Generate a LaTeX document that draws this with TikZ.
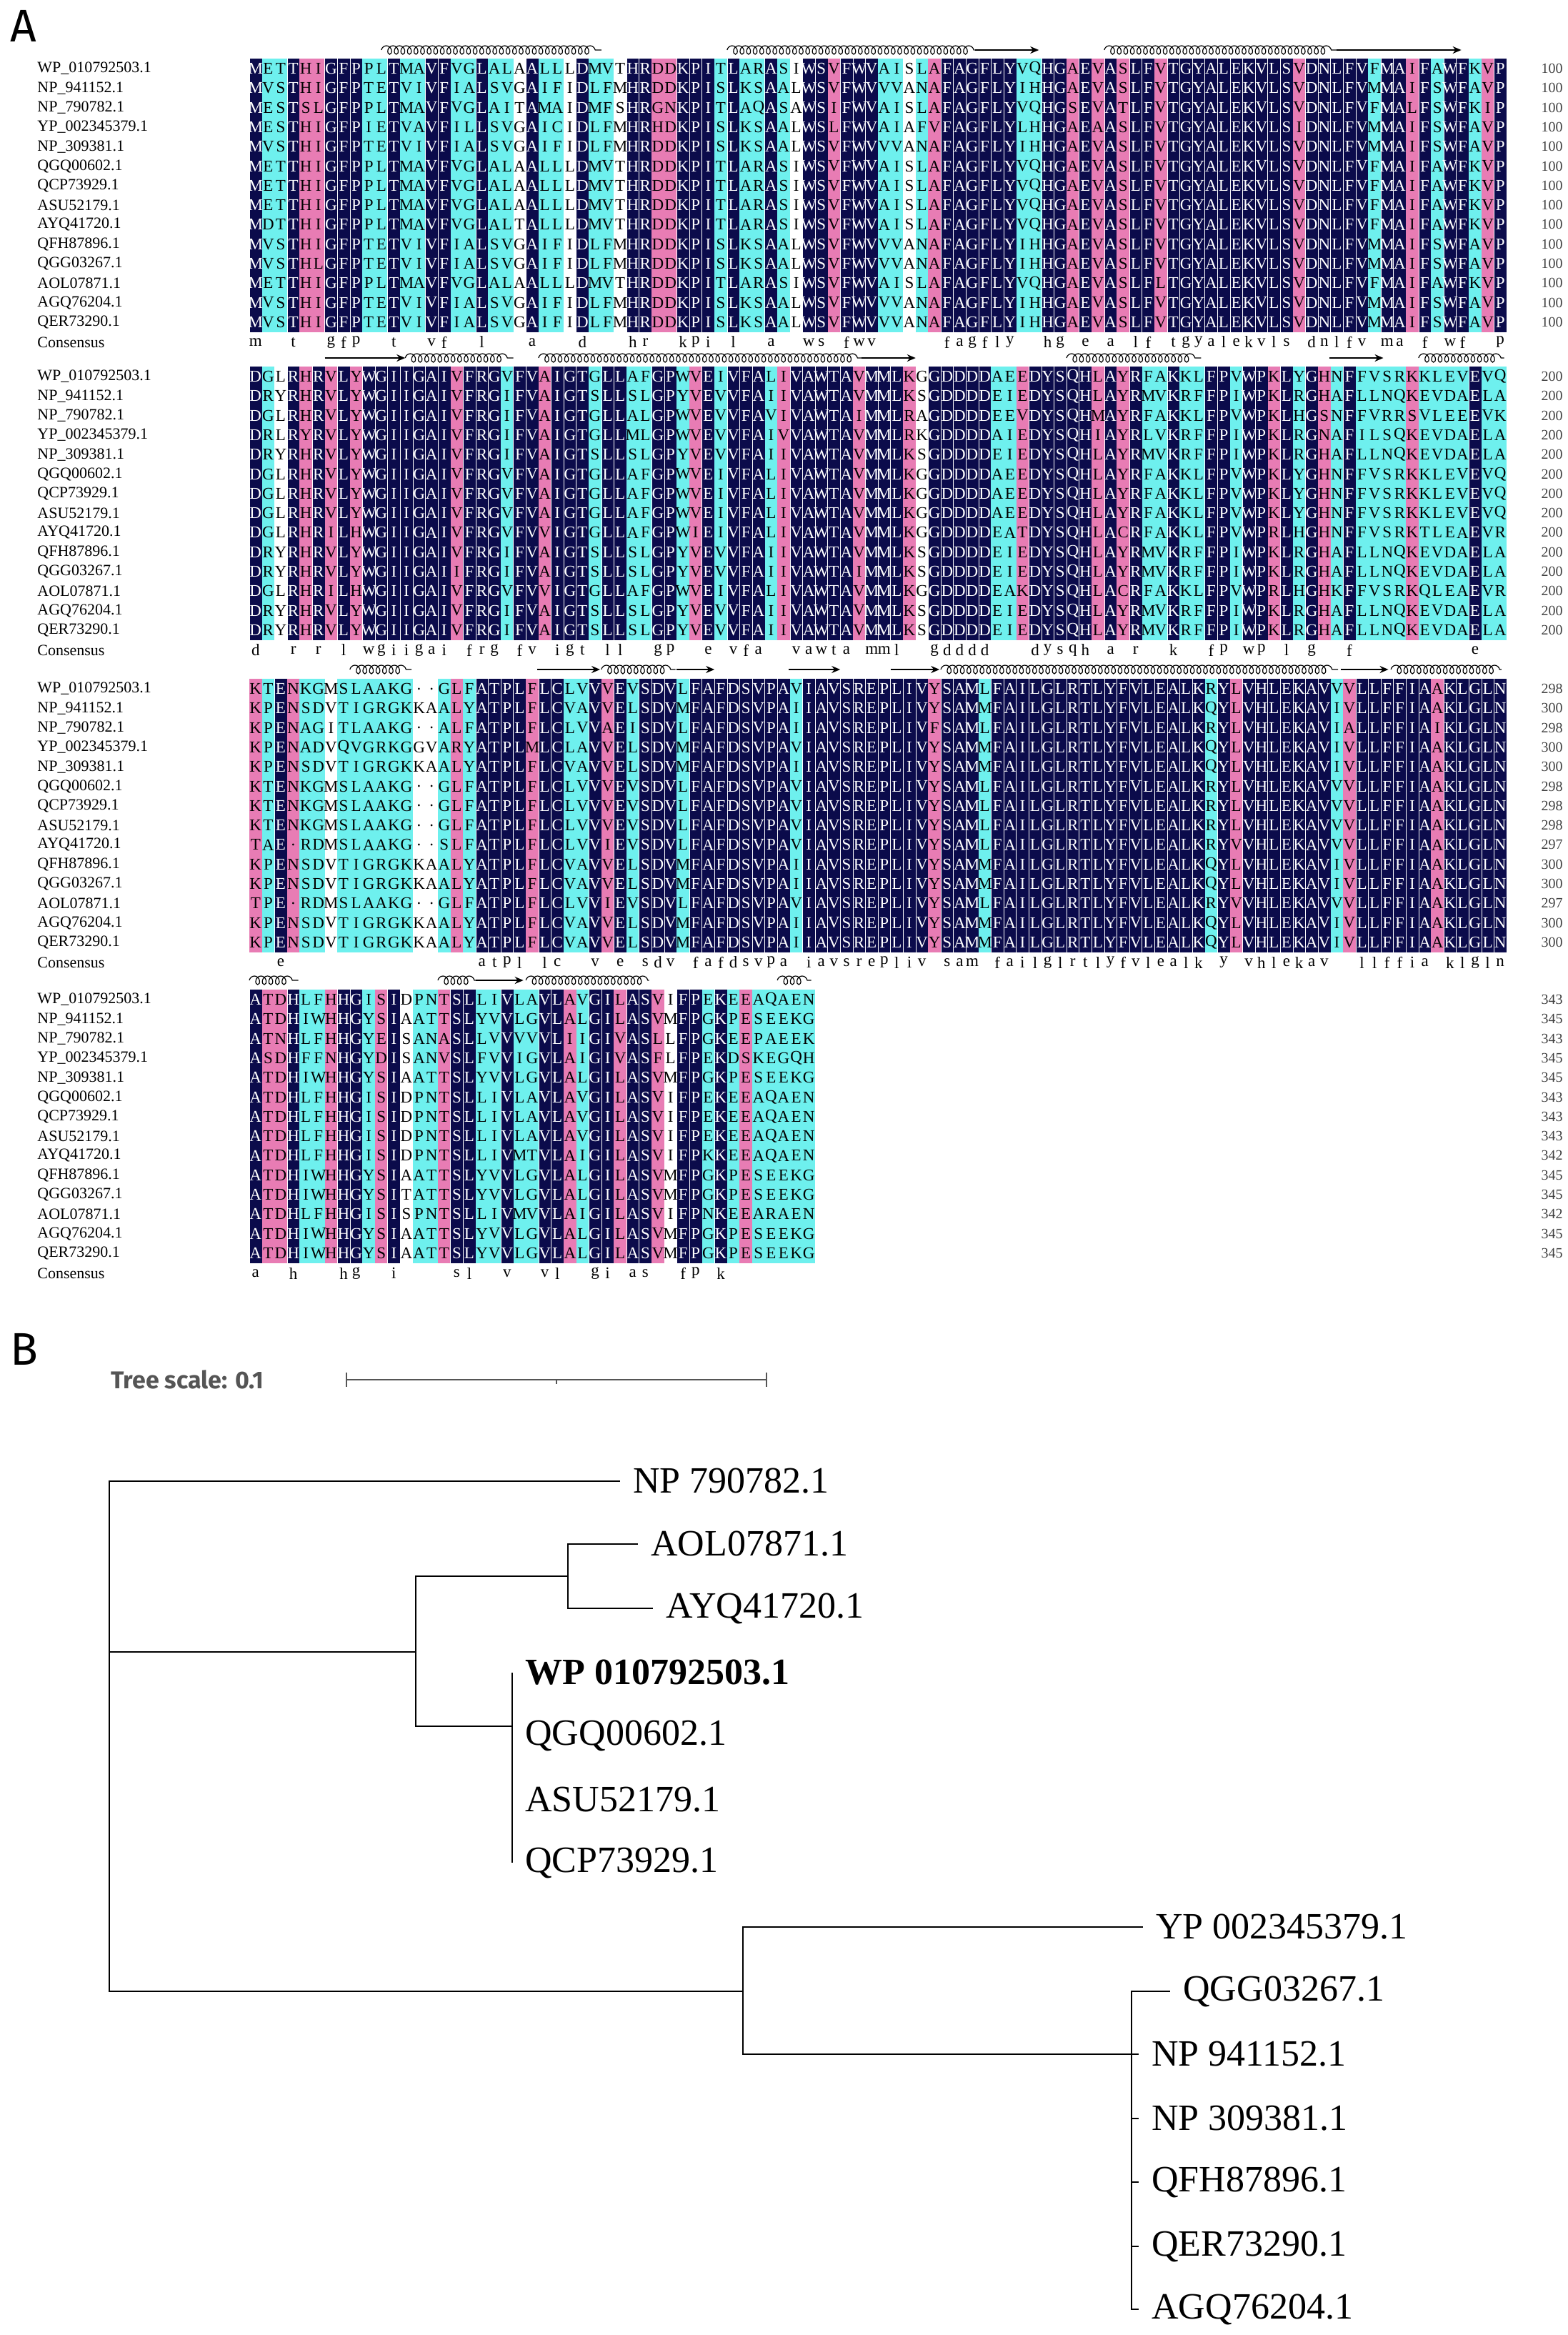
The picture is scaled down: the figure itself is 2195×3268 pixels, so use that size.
\documentclass[tikz,border=0pt]{standalone}
\usepackage{fontspec}
\setmainfont{Liberation Serif}
\newfontfamily\sansf{Fira Sans}
\usetikzlibrary{arrows.meta,decorations.pathmorphing}

\definecolor{navyres}{HTML}{0B0B4B}
\definecolor{cyanres}{HTML}{6EF0EE}
\definecolor{pinkres}{HTML}{E87CB4}
\definecolor{scalegray}{HTML}{555555}

\ExplSyntaxOn
\cs_generate_variant:Nn \str_item:nn {on}
\cs_generate_variant:Nn \str_count:n {o}
\cs_new:Npn \stritem #1#2 {\str_item:on {#1}{#2}}
\cs_new:Npn \strlen #1 {\str_count:o {#1}}
\ExplSyntaxOff

% column classes: N conserved, C cyan, P pink, W none
\def\clsa{NCCNPPNNNC%
CNCCNNCCNC%
CWNCCWNCCW%
NNPPNNNCNC%
CNCWNNPNNN%
CCWCPNNNNN%
NCCNNPNPNP%
NNPNNNNNNN%
NNNPNNNNNC%
NNPNCNNCPN}
\def\clsb{NCWNPNPNPN%
NNNNNNPNNN%
CNNPNNNCNN%
CCNNCPNCNN%
NCPNNNNNPN%
NNPWNNNNNC%
CPNNNNNPNP%
NCCNCCNNCN%
NPNCNPCNCC%
CCPCCCCNCC}
\def\clsc{PCNPCCWCCC%
CCCWWCPCNN%
NNPNNCCNPN%
CNNNCNNNNN%
NNNCNNNNNN%
NNNNPNNNCN%
NNNNNNNNNN%
NNNNNNCNPN%
NNNNNNCPNN%
NNNNPNNNNN}
\def\clsd{NPPNCCPNNC%
PNWCCPNNCC%
NCCNNPCNNP%
NNPWNNCNCP%
CCCCC}

% sequences, block a
\def\sAa{METTHIGFPPLTMAVFVGLALAALLLDMVTHRDDKPITLARASIWSVFWVAISLAFAGFLYVQHGAEVASLFVTGYALEKVLSVDNLFVFMAIFAWFKVP}
\def\sBa{MVSTHIGFPTETVIVFIALSVGAIFIDLFMHRDDKPISLKSAALWSVFWVVVANAFAGFLYIHHGAEVASLFVTGYALEKVLSVDNLFVMMAIFSWFAVP}
\def\sNa{MESTSLGFPPLTMAVFVGLAITAMAIDMFSHRGNKPITLAQASAWSIFWVAISLAFAGFLYVQHGSEVATLFVTGYALEKVLSVDNLFVFMALFSWFKIP}
\def\sYa{MESTHIGFPIETVAVFILLSVGAICIDLFMHRHDKPISLKSAALWSLFWVAIAFVFAGFLYLHHGAEAASLFVTGYALEKVLSIDNLFVMMAIFSWFAVP}
\def\sQa{MDTTHIGFPPLTMAVFVGLALTALLLDMVTHRDDKPITLARASIWSVFWVAISLAFAGFLYVQHGAEVASLFVTGYALEKVLSVDNLFVFMAIFAWFKVP}
\def\sGa{MVSTHLGFPTETVIVFIALSVGAIFIDLFMHRDDKPISLKSAALWSVFWVVVANAFAGFLYIHHGAEVASLFVTGYALEKVLSVDNLFVMMAIFSWFAVP}
\def\sOa{METTHIGFPPLTMAVFVGLALAALLLDMVTHRDDKPITLARASIWSVFWVAISLAFAGFLYVQHGAEVASLFLTGYALEKVLSVDNLFVFMAIFAWFKVP}
% block b
\def\sAb{DGLRHRVLYWGIIGAIVFRGVFVAIGTGLLAFGPWVEIVFALIVAWTAVMMLKGGDDDDAEEDYSQHLAYRFAKKLFPVWPKLYGHNFFVSRKKLEVEVQ}
\def\sBb{DRYRHRVLYWGIIGAIVFRGIFVAIGTSLLSLGPYVEVVFAIIVAWTAVMMLKSGDDDDEIEDYSQHLAYRMVKRFFPIWPKLRGHAFLLNQKEVDAELA}
\def\sNb{DGLRHRVLYWGIIGAIVFRGIFVAIGTGLLALGPWVEVVFAVIVAWTAIMMLRAGDDDDEEVDYSQHMAYRFAKKLFPVWPKLHGSNFFVRRSVLEEEVK}
\def\sYb{DRLRYRVLYWGIIGAIVFRGIFVAIGTGLLMLGPWVEVVFAIVVAWTAVMMLRKGDDDDAIEDYSQHIAYRLVKRFFPIWPKLRGNAFILSQKEVDAELA}
\def\sQb{DGLRHRILHWGIIGAIVFRGVFVVIGTGLLAFGPWIEIVFALIVAWTAVMMLKGGDDDDEATDYSQHLACRFAKKLFPVWPRLHGHNFFVSRKTLEAEVR}
\def\sGb{DRYRHRVLYWGIIGAIIFRGIFVAIGTSLLSLGPYVEVVFAIIVAWTAIMMLKSGDDDDEIEDYSQHLAYRMVKRFFPIWPKLRGHAFLLNQKEVDAELA}
\def\sOb{DGLRHRILHWGIIGAIVFRGVFVVIGTGLLAFGPWVEIVFALIVAWTAVMMLKGGDDDDEAKDYSQHLACRFAKKLFPVWPRLHGHKFFVSRKQLEAEVR}
% block c
\def\sAc{KTENKGMSLAAKG..GLFATPLFLCLVVVEVSDVLFAFDSVPAVIAVSREPLIVYSAMLFAILGLRTLYFVLEALKRYLVHLEKAVVVLLFFIAAKLGLN}
\def\sBc{KPENSDVTIGRGKKAALYATPLFLCVAVVELSDVMFAFDSVPAIIAVSREPLIVYSAMMFAILGLRTLYFVLEALKQYLVHLEKAVIVLLFFIAAKLGLN}
\def\sNc{KPENAGITLAAKG..ALFATPLFLCLVVAEISDVLFAFDSVPAIIAVSREPLIVFSAMLFAILGLRTLYFVLEALKRYLVHLEKAVIALLFFIAIKLGLN}
\def\sYc{KPENADVQVGRKGGVARYATPLMLCLAVVELSDVMFAFDSVPAVIAVSREPLIVYSAMMFAILGLRTLYFVLEALKQYLVHLEKAVIVLLFFIAAKLGLN}
\def\sQc{TAE.RDMSLAAKG..SLFATPLFLCLVVIEVSDVLFAFDSVPAVIAVSREPLIVYSAMLFAILGLRTLYFVLEALKRYVVHLEKAVVVLLFFIAAKLGLN}
\let\sGc\sBc
\def\sOc{TPE.RDMSLAAKG..GLFATPLFLCLVVIEVSDVLFAFDSVPAVIAVSREPLIVYSAMLFAILGLRTLYFVLEALKRYVVHLEKAVVVLLFFIAAKLGLN}
% block d
\def\sAd{ATDHLFHHGISIDPNTSLLIVLAVLAVGILASVIFPEKEEAQAEN}
\def\sBd{ATDHIWHHGYSIAATTSLYVVLGVLALGILASVMFPGKPESEEKG}
\def\sNd{ATNHLFHHGYEISANASLLVVVVVLIIGIVASLLFPGKEEPAEEK}
\def\sYd{ASDHFFNHGYDISANVSLFVVIGVLAIGIVASFLFPEKDSKEGQH}
\def\sQd{ATDHLFHHGISIDPNTSLLIVMTVLAIGILASVIFPKKEEAQAEN}
\def\sGd{ATDHIWHHGYSITATTSLYVVLGVLALGILASVMFPGKPESEEKG}
\def\sOd{ATDHLFHHGISISPNTSLLIVMVVLAIGILASVIFPNKEEARAEN}

\tikzset{
  res/.style={inner sep=0pt,font=\fontsize{11.5}{12}\selectfont},
  seqname/.style={anchor=west,inner sep=0pt,font=\fontsize{11}{12}\selectfont},
  endnum/.style={anchor=east,inner sep=0pt,font=\fontsize{10}{12}\selectfont,text=black!75},
  helix/.style={decorate,decoration={coil,aspect=0.8,segment length=4.6pt,amplitude=3pt},line width=0.6pt},
  strand/.style={-{Stealth[length=6pt,width=5pt]},line width=1pt},
  branch/.style={line width=1pt},
  leaf/.style={anchor=west,inner xsep=9pt,inner ysep=0pt,font=\fontsize{26}{28}\selectfont},
  panel/.style={anchor=north west,inner sep=0pt,font=\sansf\fontsize{32}{34}\selectfont}
}

\newcommand\colx[1]{349+(#1-1)*17.6}
\newcommand\helixat[3]{\draw[helix] ({\colx{#2}},#1) -- ({\colx{#3}},#1);}
\newcommand\strandat[3]{\draw[strand] ({\colx{#2}},#1) -- ({\colx{#3}},#1);}

% #1 block letter, #2 y of first row, #3 class string, #4 end numbers
\newcommand\alnblock[4]{%
  \edef\ncols{\strlen{#3}}%
  \foreach \col in {1,...,\ncols}{%
    \edef\clsch{\stritem{#3}{\col}}%
    \if N\clsch \fill[navyres] ({\colx{\col}},{#2-13.65}) rectangle ++(17.6,382.2);
      \draw[white,line width=0.3pt] ({\colx{\col}},{#2-13.65}) -- ++(0,382.2);\fi
    \if C\clsch \fill[cyanres] ({\colx{\col}},{#2-13.65}) rectangle ++(17.6,382.2);\fi
    \if P\clsch \fill[pinkres] ({\colx{\col}},{#2-13.65}) rectangle ++(17.6,382.2);\fi
  }
  \foreach \grp/\seqlabel [count=\row] in {A/WP\_010792503.1,B/NP\_941152.1,N/NP\_790782.1,
      Y/YP\_002345379.1,B/NP\_309381.1,A/QGQ00602.1,A/QCP73929.1,A/ASU52179.1,Q/AYQ41720.1,
      B/QFH87896.1,G/QGG03267.1,O/AOL07871.1,B/AGQ76204.1,B/QER73290.1}{%
    \edef\curseq{\csname s\grp#1\endcsname}%
    \pgfmathsetmacro\rowy{#2+(\row-1)*27.3}%
    \node[seqname] at (52,\rowy) {\seqlabel};
    \foreach \col in {1,...,\ncols}{%
      \edef\resch{\stritem{\curseq}{\col}}%
      \edef\clsch{\stritem{#3}{\col}}%
      \if N\clsch\def\tc{white}\else\def\tc{black}\fi
      \node[res,text=\tc] at ({\colx{\col}+8.8},\rowy) {\resch};
    }
  }
  \foreach \num [count=\row] in {#4}{%
    \node[endnum] at (2188,{#2+(\row-1)*27.3}) {\num};
  }
  % consensus line
  \node[seqname] at (52,{#2+383}) {Consensus};
  \edef\curseq{\csname sA#1\endcsname}%
  \foreach \col in {1,...,\ncols}{%
    \edef\clsch{\stritem{#3}{\col}}%
    \if N\clsch
      \edef\resch{\stritem{\curseq}{\col}}%
      \node[res] at ({\colx{\col}+8.8},{#2+383}) {\expandafter\lowercase\expandafter{\resch}};
    \fi
  }
}

\begin{document}
\begin{tikzpicture}[x=0.5pt,y=-0.5pt]
  \useasboundingbox[fill=white] (0,0) rectangle (2195,3268);

  % panel A: alignment
  \node[panel] (pa) at (14,14) {A};

  \alnblock{a}{96}{\clsa}{100,100,100,100,100,100,100,100,100,100,100,100,100,100}
  \alnblock{b}{527}{\clsb}{200,200,200,200,200,200,200,200,200,200,200,200,200,200}
  \alnblock{c}{964}{\clsc}{298,300,298,300,300,298,298,298,297,300,300,297,300,300}
  \alnblock{d}{1399}{\clsd}{343,345,343,345,345,343,343,343,342,345,345,342,345,345}

  % secondary structure
  \helixat{70}{11.5}{29}
  \helixat{70}{39}{58.7}
  \strandat{70}{58.7}{63.8}
  \helixat{70}{69}{87.5}
  \strandat{70}{87.5}{97.4}

  \strandat{501}{7}{13.4}
  \helixat{501}{13.4}{22}
  \helixat{501}{24}{49.7}
  \strandat{501}{49.7}{54}
  \helixat{501}{66}{76.7}
  \strandat{501}{86.9}{91.2}
  \helixat{501}{94}{100.8}

  \helixat{937}{9}{13.9}
  \strandat{937}{23.9}{28.9}
  \helixat{937}{29}{34.9}
  \strandat{937}{35}{38}
  \strandat{937}{43.9}{48}
  \strandat{937}{52}{55.9}
  \helixat{937}{56}{87.6}
  \strandat{937}{87.8}{91.6}
  \helixat{937}{91.8}{100.6}

  \helixat{1372}{1}{4.9}
  \helixat{1372}{16}{19}
  \strandat{1372}{19}{22.8}
  \helixat{1372}{23}{32.8}
  \helixat{1372}{43}{45.7}

  % panel B: tree
  \node[panel] (pb) at (14,1866) {B};
  \node[anchor=west,inner sep=0pt,text=scalegray,font=\sansf\bfseries\fontsize{17}{20}\selectfont] (tscale) at (155,1931) {Tree scale: 0.1};
  \coordinate (sb0) at (485,1931);
  \coordinate (sbm) at (779,1931);
  \coordinate (sb1) at (1073,1931);
  \draw[scalegray,line width=0.8pt] (sb0) -- (sb1);
  \draw[scalegray,line width=0.8pt] ([yshift=5pt]sb0) -- ([yshift=-5pt]sb0);
  \draw[scalegray,line width=0.8pt] ([yshift=5pt]sb1) -- ([yshift=-5pt]sb1);
  \draw[scalegray,line width=0.6pt] (sbm) -- ([yshift=-3pt]sbm);

  \coordinate (rt) at (153,2312);
  \coordinate (up) at (582,2312);
  \coordinate (lo) at (1040,2787);
  \coordinate (ao) at (795,2206);
  \coordinate (wq) at (717,2416);
  \coordinate (qn) at (1584,2875);

  \node[leaf] (np79) at (868,2073) {NP 790782.1};
  \node[leaf] (aol) at (893,2161) {AOL07871.1};
  \node[leaf] (ayq) at (914,2251) {AYQ41720.1};
  \node[leaf,font=\fontsize{26}{28}\selectfont\bfseries] (wp) at (717,2341) {WP 010792503.1};
  \node[leaf] (qgq) at (717,2429) {QGQ00602.1};
  \node[leaf] (asu) at (717,2519) {ASU52179.1};
  \node[leaf] (qcp) at (717,2607) {QCP73929.1};
  \node[leaf] (yp) at (1600,2697) {YP 002345379.1};
  \node[leaf] (qgg) at (1638,2787) {QGG03267.1};
  \node[leaf] (np94) at (1594,2875) {NP 941152.1};
  \node[leaf] (np30) at (1594,2965) {NP 309381.1};
  \node[leaf] (qfh) at (1594,3054) {QFH87896.1};
  \node[leaf] (qer) at (1594,3144) {QER73290.1};
  \node[leaf] (agq) at (1594,3232) {AGQ76204.1};

  \draw[branch] (rt) |- (np79.west);
  \draw[branch] (rt) -- (up);
  \draw[branch] (rt) |- (lo);
  \draw[branch] (up) |- (ao);
  \draw[branch] (up) |- (wq);
  \draw[branch] (ao) |- (aol.west);
  \draw[branch] (ao) |- (ayq.west);
  \draw[branch] (wq) |- (wp.west);
  \draw[branch] (wq) |- (qcp.west);
  \draw[branch] (lo) |- (yp.west);
  \draw[branch] (lo) |- (qn);
  \draw[branch] (qn) |- (qgg.west);
  \draw[branch] (qn) |- (np94.west);
  \draw[branch] (qn) |- (np30.west);
  \draw[branch] (qn) |- (qfh.west);
  \draw[branch] (qn) |- (qer.west);
  \draw[branch] (qn) |- (agq.west);
\end{tikzpicture}
\end{document}
